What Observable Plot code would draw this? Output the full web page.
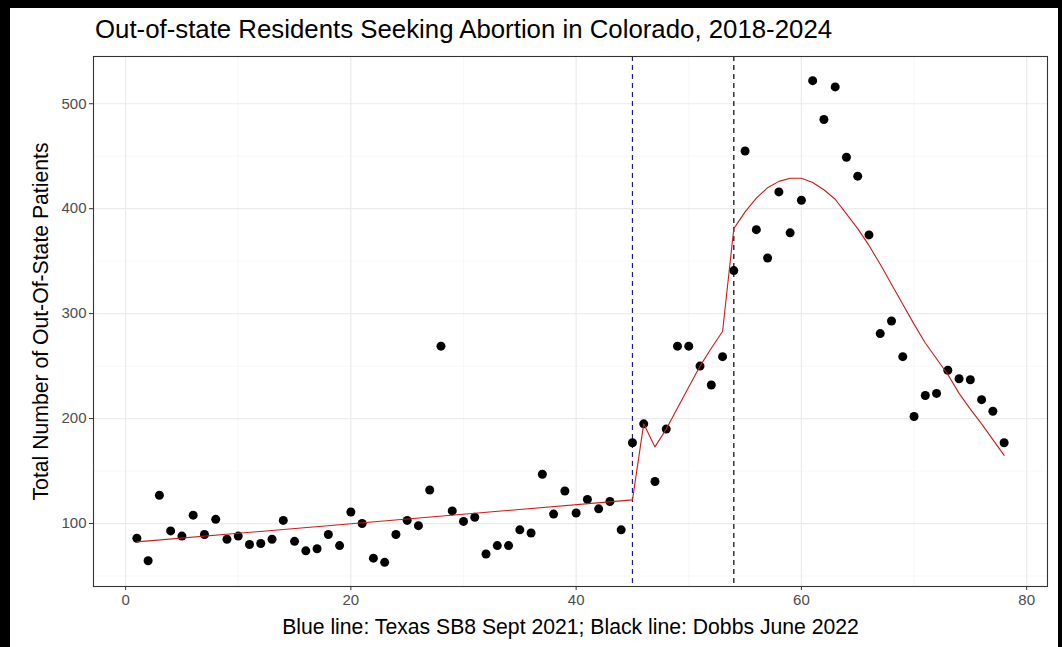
<!DOCTYPE html>
<html>
<head>
<meta charset="utf-8">
<script src="https://cdn.jsdelivr.net/npm/d3@7"></script>
<script src="https://cdn.jsdelivr.net/npm/@observablehq/plot@0.6"></script>
<style>
  body { margin: 0; background: #fff; }
  #wrap { position: relative; width: 1062px; height: 647px; overflow: hidden; font-family: "Liberation Sans", Arial, sans-serif; background: #fff; }
  #title { position: absolute; left: 95px; top: 15px; font-size: 25.8px; color: #000; white-space: nowrap; }
  #chart { position: absolute; left: 0; top: 50px; }
  .bd { position: absolute; background: #000; }
  g[aria-label="y-axis label"] text, g[aria-label="x-axis label"] text { font-size: 21.2px; fill: #000; }
</style>
</head>
<body>
<div id="wrap">
  <div id="title">Out-of-state Residents Seeking Abortion in Colorado, 2018-2024</div>
  <div id="chart"></div>
  <div class="bd" style="left:0;top:0;width:1062px;height:8px"></div>
  <div class="bd" style="left:0;top:0;width:10px;height:647px"></div>
  <div class="bd" style="left:1058px;top:0;width:4px;height:647px"></div>
</div>
<script>
// Observed monthly counts (x = month index)
const months = [1,2,3,4,5,6,7,8,9,10,11,12,13,14,15,16,17,18,19,20,21,22,23,24,25,26,27,28,29,30,31,32,33,34,35,36,37,38,39,40,41,42,43,44,45,46,47,48,49,50,51,52,53,54,55,56,57,58,59,60,61,62,63,64,65,66,67,68,69,70,71,72,73,74,75,76,77,78];
const patients = [86,64.5,127,93,88,108,89.5,104,85,88,80,81,85,103,83,74,76,89.5,79,111,100,67,63,89.5,103,98,132,269,112,102,106,71,79,79,94,91,147,109,131,110,123,114,121,94,177,195,140,190,269,269,250,232,259,341,455,380,353,416,377,408,522,485,516,449,431,375,281,293,259,202,222,224,246,238,237,218,207,177];

// Fitted (red) line
const fitX = [1,45,46,47,48,49,50,51,52,53,54,55,56,57,58,59,60,61,62,63,64,65,66,67,68,69,70,71,72,73,74,75,76,77,78];
const fitY = [82.5,122.5,195,173,190,210,230,250,267,283,381,397,410,420,426,429,429,425,418,409,395,381,365,347,328,309,290,272,257,242,224,209,195,180,165];

// Event lines
const eventX = [45, 54];
const eventColor = ["#1c1c8c", "#000000"];

const xTicks = [0,20,40,60,80];
const xMinor = [10,30,50,70];
const yTicks = [100,200,300,400,500];
const yMinor = [50,150,250,350,450];

const points = months.map((m,i) => ({x: m, y: patients[i]}));
const fit = fitX.map((m,i) => ({x: m, y: fitY[i]}));
const events = eventX.map((m,i) => ({x: m, c: eventColor[i]}));

const chart = Plot.plot({
  width: 1062,
  height: 597,
  marginTop: 6,
  marginBottom: 61,
  marginLeft: 93,
  marginRight: 15,
  style: { fontFamily: "Liberation Sans, Arial, sans-serif", fontSize: "15px", background: "transparent", overflow: "visible" },
  x: { domain: [-2.85, 81.85] },
  y: { domain: [40, 545] },
  marks: [
    Plot.gridX(xMinor, { stroke: "#f3f3f3", strokeOpacity: 1, strokeWidth: 0.7 }),
    Plot.gridY(yMinor, { stroke: "#f3f3f3", strokeOpacity: 1, strokeWidth: 0.7 }),
    Plot.gridX(xTicks, { stroke: "#ebebeb", strokeOpacity: 1, strokeWidth: 1.2 }),
    Plot.gridY(yTicks, { stroke: "#ebebeb", strokeOpacity: 1, strokeWidth: 1.2 }),
    Plot.axisX({ ticks: xTicks, tickSize: 4, tickPadding: 4, stroke: "#333", color: "#4d4d4d",
      label: "Blue line: Texas SB8 Sept 2021; Black line: Dobbs June 2022", labelAnchor: "center", labelArrow: "none", labelOffset: 47 }),
    Plot.axisY({ ticks: yTicks, tickSize: 4, tickPadding: 3, stroke: "#333", color: "#4d4d4d",
      label: "Total Number of Out-Of-State Patients", labelAnchor: "center", labelArrow: "none", labelOffset: 61 }),
    Plot.ruleX(events, { x: "x", stroke: "c", strokeWidth: 1.2, strokeDasharray: "5,4" }),
    Plot.dot(points, { x: "x", y: "y", r: 4.5, fill: "#000", stroke: "none" }),
    Plot.line(fit, { x: "x", y: "y", stroke: "#cc1a1a", strokeWidth: 1.1 }),
    Plot.frame({ stroke: "#333", strokeWidth: 1.1 })
  ]
});
document.getElementById("chart").appendChild(chart);
</script>
</body>
</html>
